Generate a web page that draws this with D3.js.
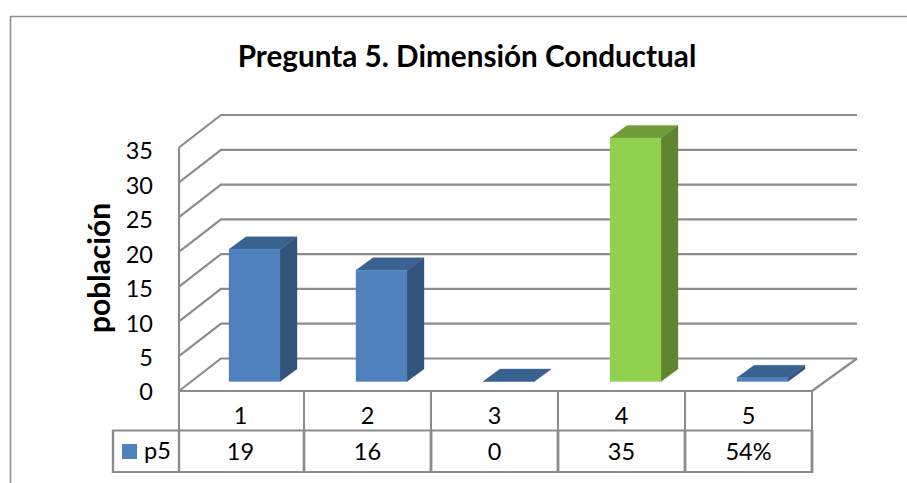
<!DOCTYPE html>
<html><head><meta charset="utf-8">
<script src="https://d3js.org/d3.v7.min.js"></script>
<style>html,body{margin:0;padding:0;background:#fff}svg{display:block}text{font-family:Lato,"Open Sans",sans-serif;fill:#000}</style>
</head><body><div id="c"></div>
<script>
const categories=["1","2","3","4","5"];
const values=[19,16,0,35,0.54];
const valueLabels=["19","16","0","35","54%"];
const yTicks=[0,5,10,15,20,25,30,35];
const seriesName="p5";
const titleText="Pregunta 5. Dimensión Conductual";
const yTitle="población";

const W=907,H=483;
const svg=d3.select("#c").append("svg").attr("width",W).attr("height",H);
const grid="#8c8c8c";
const x=d3.scaleBand().domain(categories).range([177,812]);
const y=d3.scaleLinear().domain([0,35]).range([391,147.5]);
const yLabel=d3.scaleLinear().domain([0,35]).range([392,151]);
const left=179,right=812,backL=221,backR=857,dy=-32.5;

svg.append("path").attr("d","M10.5,483V16.5H907").attr("fill","none").attr("stroke","#8f8f8f").attr("stroke-width",1.6);
svg.append("text").attr("x",467).attr("y",67).attr("text-anchor","middle").attr("font-size",29.7).attr("font-weight",700).text(titleText);

const line=(pts,w)=>svg.append("polyline").attr("points",pts.map(p=>p.join(",")).join(" ")).attr("fill","none").attr("stroke",grid).attr("stroke-width",w||2.2);
yTicks.forEach(t=>line([[left,y(t)],[backL,y(t)+dy],[backR,y(t)+dy]]));
line([[left,y(0)],[left,y(35)]]);
line([[right,y(0)],[backR,y(0)+dy]]);
line([[left,y(0)],[right,y(0)]]);

yTicks.forEach(t=>svg.append("text").attr("x",153).attr("y",yLabel(t)).attr("dy","0.36em").attr("text-anchor","end").attr("font-size",23.5).text(t));
svg.append("text").attr("transform","translate(110,268) rotate(-90)").attr("text-anchor","middle").attr("font-size",30).attr("font-weight",700).text(yTitle);

const colors=["#4f81bd","#4f81bd","#4f81bd","#92d050","#4f81bd"];
const sideC=["#34547c","#34547c","#34547c","#5f8530","#34547c"];
const topC=["#3a6290","#3a6290","#3a6290","#709c3c","#3a6290"];
const bw=51,ox=52,oy=-9.5,bdx=17,bdy=-12.5;
categories.forEach((c,i)=>{
  const x0=x(c)+ox, x1=x0+bw, by=y(0)+oy, ty=y(values[i])+oy;
  const g=svg.append("g");
  const poly=(pts,f)=>g.append("polygon").attr("points",pts.map(p=>p.join(",")).join(" ")).attr("fill",f).attr("stroke",f).attr("stroke-opacity",0.35).attr("stroke-width",1);
  poly([[x1,by],[x1+bdx,by+bdy],[x1+bdx,ty+bdy],[x1,ty]],sideC[i]);
  poly([[x0,ty],[x1,ty],[x1+bdx,ty+bdy],[x0+bdx,ty+bdy]],topC[i]);
  poly([[x0,by],[x1,by],[x1,ty],[x0,ty]],colors[i]);
});

const tl=(a,b,c,d,w)=>svg.append("line").attr("x1",a).attr("y1",b).attr("x2",c).attr("y2",d).attr("stroke",grid).attr("stroke-width",w||2);
tl(112,430.5,813,430.5);tl(112,472,813,472);tl(113,430,113,473,2.4);
tl(left,391,left,430);tl(left,430,left,473,2.4);
categories.forEach(c=>{const vx=x(c)+x.step();tl(vx,391,vx,430);tl(vx,430,vx,473,2.8);});
categories.forEach((c,i)=>{
  const cx=x(c)+x.step()/2;
  svg.append("text").attr("x",cx).attr("y",424).attr("text-anchor","middle").attr("font-size",23.5).text(c);
  svg.append("text").attr("x",cx).attr("y",460).attr("text-anchor","middle").attr("font-size",23.5).text(valueLabels[i]);
});
svg.append("rect").attr("x",122).attr("y",444).attr("width",15).attr("height",15).attr("fill","#4f81bd");
svg.append("text").attr("x",144).attr("y",459).attr("font-size",23.5).text(seriesName);
</script></body></html>
